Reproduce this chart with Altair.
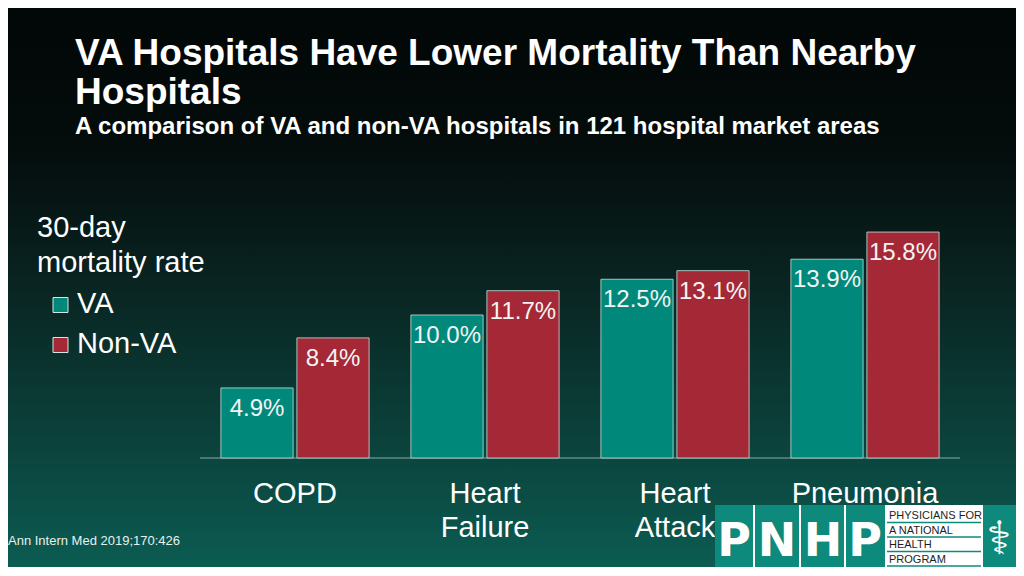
import altair as alt
import pandas as pd

# ---------------- data ----------------
categories = ["COPD", "Heart Failure", "Heart Attack", "Pneumonia"]
series = ["VA", "Non-VA"]
va_values = [4.9, 10.0, 12.5, 13.9]
nonva_values = [8.4, 11.7, 13.1, 15.8]
series_colors = ["#00897b", "#a52837"]

title_text = "VA Hospitals Have Lower Mortality Than Nearby\nHospitals"
subtitle_text = "A comparison of VA and non-VA hospitals in 121 hospital market areas"
legend_title = "30-day\nmortality rate"
source_text = "Ann Intern Med 2019;170:426"
logo_letters = ["P", "N", "H", "P"]
logo_lines = ["PHYSICIANS FOR", "A NATIONAL", "HEALTH", "PROGRAM"]

# ---------------- tables ----------------
rows = []
for c, a, b in zip(categories, va_values, nonva_values):
    rows.append({"category": c, "series": series[0], "value": a})
    rows.append({"category": c, "series": series[1], "value": b})
df = pd.DataFrame(rows)
cat_df = pd.DataFrame({"category": categories})
ser_df = pd.DataFrame({"series": series})
one = pd.DataFrame({"k": [0]})

W, H = 1008, 559
FONT = "Liberation Sans"
WHITE = "#ffffff"
LOGO_TEAL = "#0d8a7c"

x_scale = alt.Scale(domain=categories, range=[192, 952], paddingInner=0.22, paddingOuter=0.11)
xo_scale = alt.Scale(domain=series, paddingInner=0.05, paddingOuter=0)
y_scale = alt.Scale(domain=[0, 16], range=[450, 221.2], nice=False, zero=True)
color_scale = alt.Scale(domain=series, range=series_colors)

# background gradient
bg = alt.Chart(one).mark_rect(
    fill=alt.Gradient(
        gradient="linear",
        stops=[
            alt.GradientStop(color="#020707", offset=0),
            alt.GradientStop(color="#040c0c", offset=0.25),
            alt.GradientStop(color="#092522", offset=0.5),
            alt.GradientStop(color="#0b3f39", offset=0.75),
            alt.GradientStop(color="#0b5c52", offset=1),
        ],
        x1=0, x2=0, y1=0, y2=1,
    )
).encode(x=alt.value(0), x2=alt.value(W), y=alt.value(0), y2=alt.value(H))

bars = alt.Chart(df).mark_bar(stroke="#b9d9d4", strokeWidth=1, strokeOpacity=0.85).encode(
    x=alt.X("category:N", scale=x_scale, axis=None, sort=categories),
    xOffset=alt.XOffset("series:N", scale=xo_scale, sort=series),
    y=alt.Y("value:Q", scale=y_scale, axis=None),
    color=alt.Color("series:N", scale=color_scale, legend=None),
)

value_labels = alt.Chart(df).transform_calculate(
    label="format(datum.value, '.1f') + '%'"
).mark_text(
    dy=28, fontSize=24, font=FONT, color="#f4f4f4", align="center", baseline="alphabetic"
).encode(
    x=alt.X("category:N", scale=x_scale, axis=None, sort=categories),
    xOffset=alt.XOffset("series:N", scale=xo_scale, sort=series),
    y=alt.Y("value:Q", scale=y_scale, axis=None),
    text="label:N",
)

baseline = alt.Chart(one).mark_rule(color="#5f8a84", strokeWidth=1.5).encode(
    x=alt.value(192), x2=alt.value(952), y=alt.value(450)
)

cat_labels = alt.Chart(cat_df).mark_text(
    fontSize=29, font=FONT, color=WHITE, align="center", baseline="alphabetic",
    lineBreak=" ", lineHeight=34,
).encode(
    x=alt.X("category:N", scale=x_scale, axis=None, sort=categories),
    y=alt.value(495),
    text="category:N",
)

title = alt.Chart(one).mark_text(
    text=title_text, fontSize=37, fontWeight="bold", font=FONT, color=WHITE,
    align="left", baseline="alphabetic", lineBreak="\n", lineHeight=39,
).encode(x=alt.value(67), y=alt.value(57))

subtitle = alt.Chart(one).mark_text(
    text=subtitle_text, fontSize=24, fontWeight="bold", font=FONT, color=WHITE,
    align="left", baseline="alphabetic",
).encode(x=alt.value(67), y=alt.value(126))

leg_title = alt.Chart(one).mark_text(
    text=legend_title, fontSize=29, font=FONT, color=WHITE,
    align="left", baseline="alphabetic", lineBreak="\n", lineHeight=35,
).encode(x=alt.value(29), y=alt.value(229))

leg_y = alt.Scale(domain=series, range=[297, 337], padding=0)
leg_sq = alt.Chart(ser_df).mark_square(size=225, stroke="#d4e6e3", strokeWidth=1, opacity=1).encode(
    x=alt.value(52.5),
    y=alt.Y("series:N", scale=leg_y, axis=None, sort=series),
    color=alt.Color("series:N", scale=color_scale, legend=None),
)
leg_txt = alt.Chart(ser_df).mark_text(
    fontSize=29, font=FONT, color=WHITE, align="left", baseline="alphabetic", dy=8
).encode(
    x=alt.value(69),
    y=alt.Y("series:N", scale=leg_y, axis=None, sort=series),
    text="series:N",
)

source = alt.Chart(one).mark_text(
    text=source_text, fontSize=13, font=FONT, color="#e8f0ee", align="left", baseline="alphabetic"
).encode(x=alt.value(0), y=alt.value(537))

# ---------------- logo ----------------
logo_bg = alt.Chart(one).mark_rect(fill=LOGO_TEAL).encode(
    x=alt.value(707), x2=alt.value(W), y=alt.value(497), y2=alt.value(H)
)
sep_df = pd.DataFrame({"px": [746, 792, 837]})
logo_seps = alt.Chart(sep_df).mark_rule(color=WHITE, strokeWidth=2).encode(
    x=alt.X("px:Q", scale=None), y=alt.value(497), y2=alt.value(H)
)
let_df = pd.DataFrame({"letter": logo_letters, "px": [726, 769, 815, 857]})
logo_letters_layer = alt.Chart(let_df).mark_text(
    fontSize=46, fontWeight="bold", font="DejaVu Sans", color=WHITE, align="center", baseline="bottom"
).encode(x=alt.X("px:Q", scale=None), y=alt.value(H - 1), text="letter:N")
logo_box = alt.Chart(one).mark_rect(fill=WHITE).encode(
    x=alt.value(877), x2=alt.value(975), y=alt.value(497), y2=alt.value(H)
)
line_df = pd.DataFrame({"line": logo_lines, "py": [511, 525.5, 540, 554.5], "uy": [514.5, 529, 543.5, 558]})
logo_text = alt.Chart(line_df).mark_text(
    fontSize=11, font=FONT, color="#1e1e1e", align="left", baseline="alphabetic"
).encode(x=alt.value(881), y=alt.Y("py:Q", scale=None), text="line:N")
logo_under = alt.Chart(line_df).mark_rule(color=LOGO_TEAL, strokeWidth=1.5).encode(
    x=alt.value(879), x2=alt.value(973), y=alt.Y("uy:Q", scale=None)
)
caduceus = alt.Chart(one).mark_text(
    text="\u2695", fontSize=46, font="DejaVu Sans", color=WHITE, align="center", baseline="bottom"
).encode(x=alt.value(991), y=alt.value(H - 3))

chart = alt.layer(
    bg, baseline, bars, value_labels, cat_labels, title, subtitle, leg_title, leg_sq, leg_txt, source,
    logo_bg, logo_seps, logo_letters_layer, logo_box, logo_under, logo_text, caduceus,
).resolve_scale(
    y="independent"
).properties(
    width=W, height=H, padding=0, autosize=alt.AutoSizeParams(type="none"), background="#0b5c52"
).configure_view(stroke=None)

chart.save("out.html", embed_options={"renderer": "svg", "actions": False})
